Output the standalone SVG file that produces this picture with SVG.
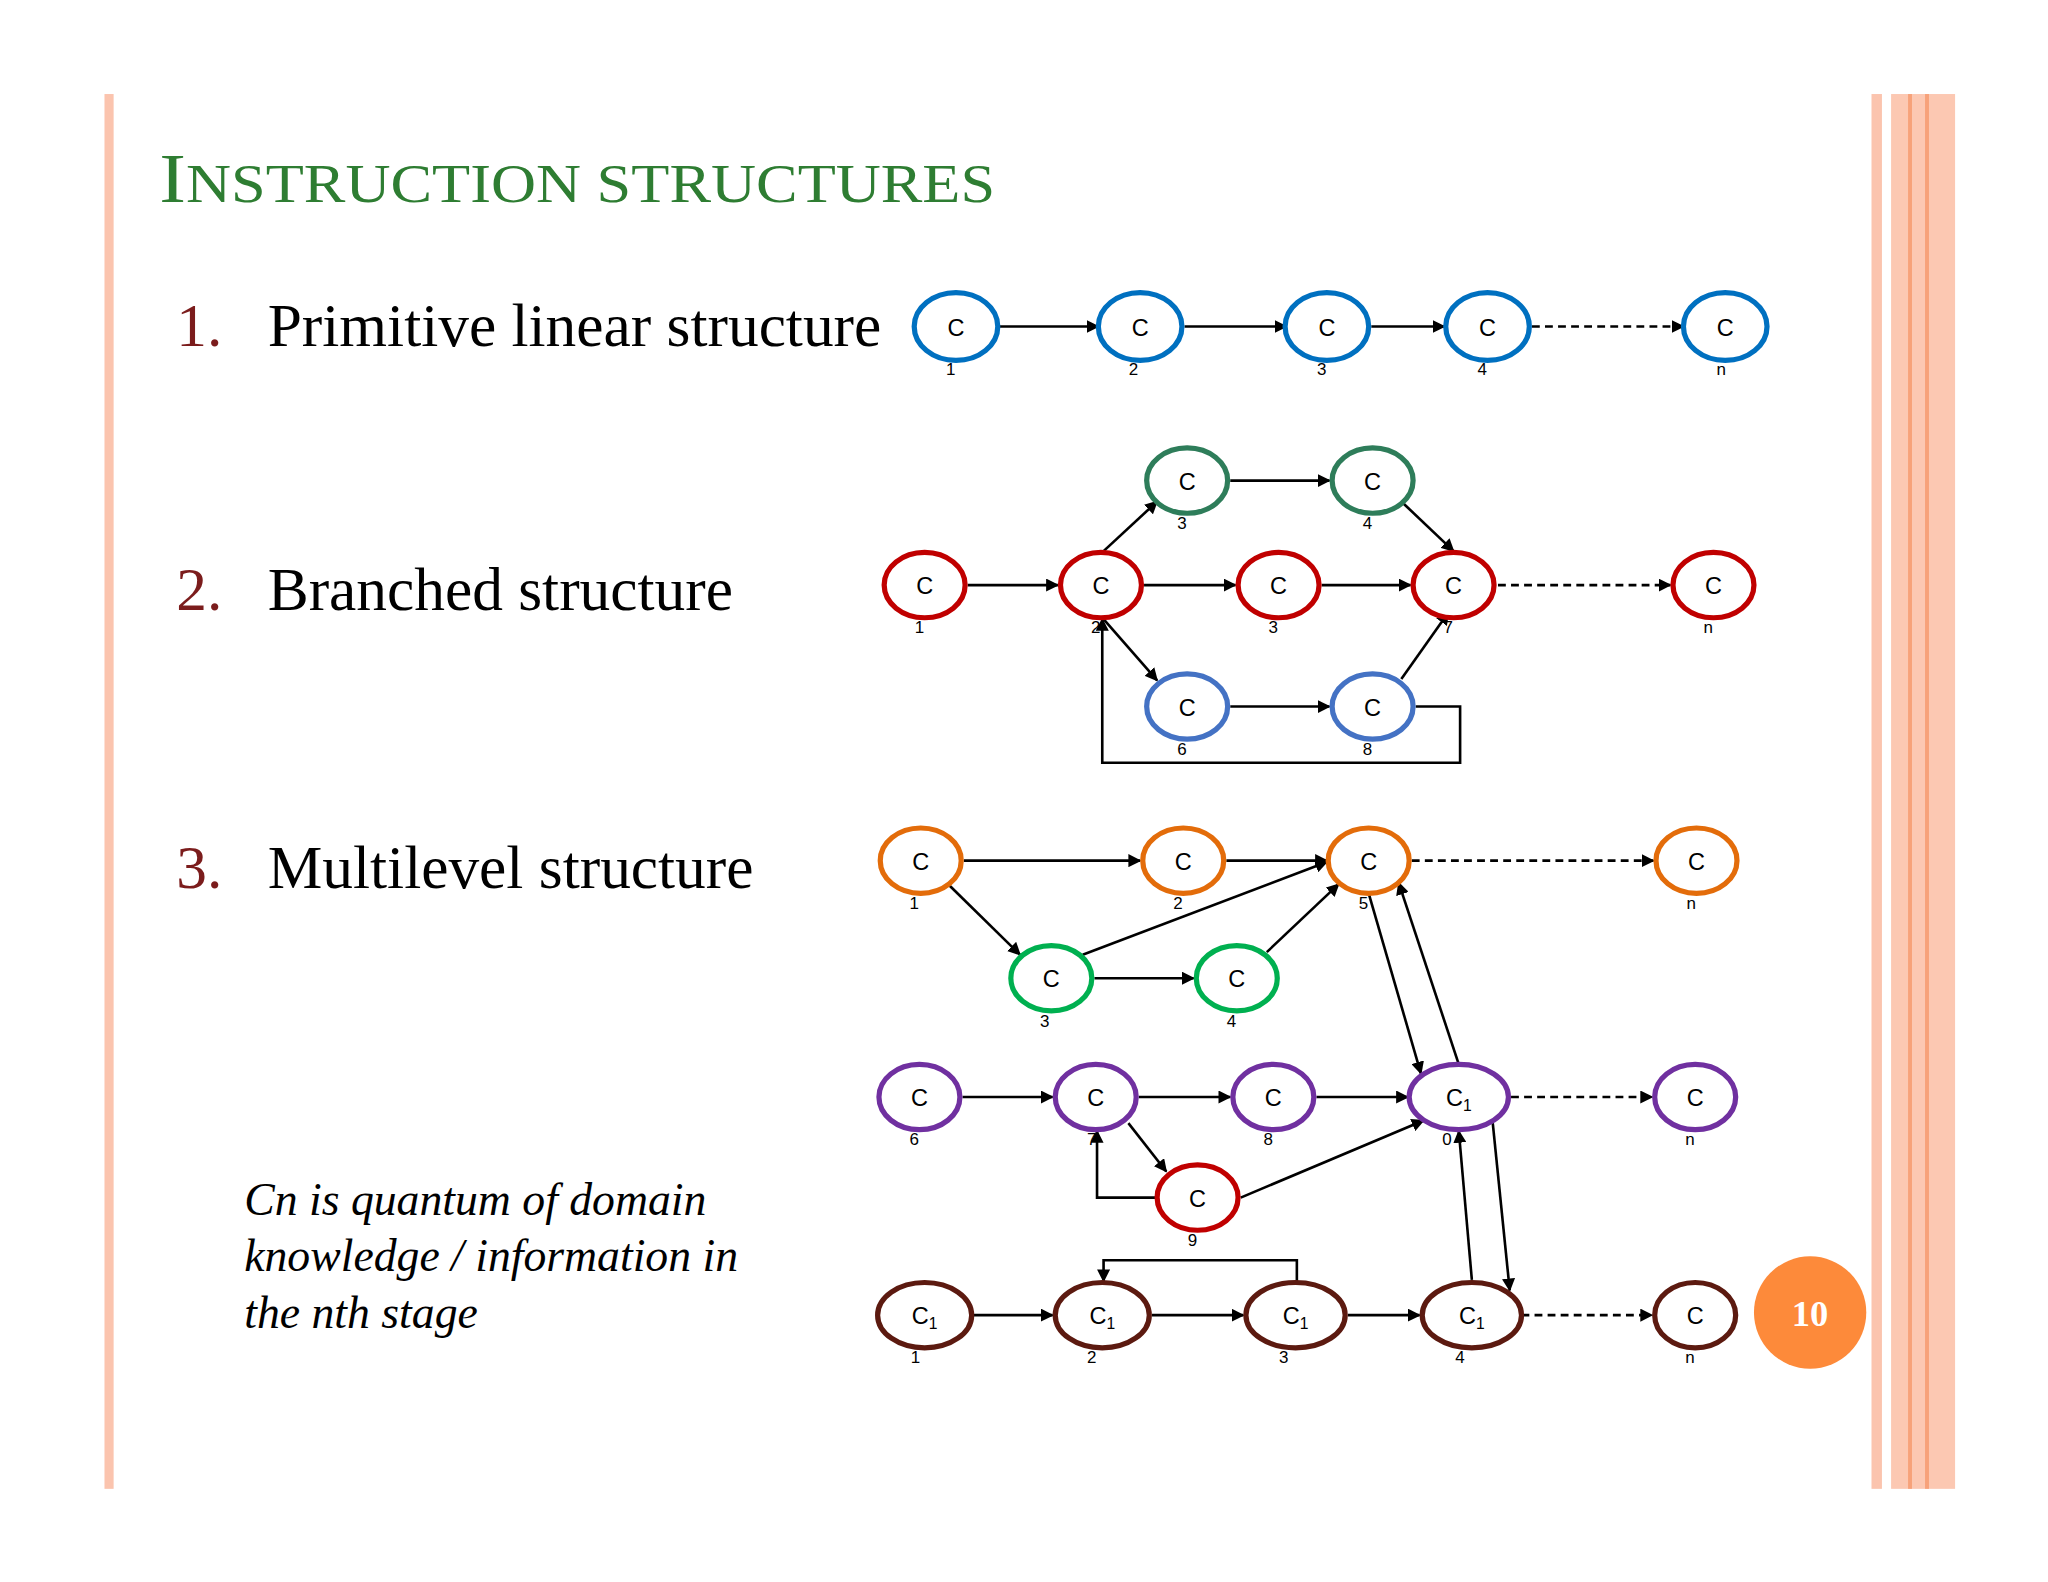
<svg xmlns="http://www.w3.org/2000/svg" width="2048" height="1582" viewBox="0 0 2048 1582">
<defs>
<marker id="ah" viewBox="0 0 10 10" refX="9" refY="5" markerWidth="10" markerHeight="10" markerUnits="userSpaceOnUse" orient="auto"><path d="M0,0 L10,5 L0,10 z" fill="#000"/></marker>
<style>
.n{fill:#fff;stroke-width:4}
.t{font-family:"Liberation Sans",Arial,sans-serif;font-size:18px;text-anchor:middle;fill:#000}
.s{font-family:"Liberation Sans",Arial,sans-serif;font-size:13px;text-anchor:middle;fill:#000}
.e{stroke:#000;stroke-width:2;fill:none;marker-end:url(#ah)}
.d{stroke-dasharray:6,4}
.h{font-family:"Liberation Serif",serif;font-size:47px;fill:#000}
.num{fill:#7b1c1c}
.blue{stroke:#0070c0}.red{stroke:#c00000}.grn{stroke:#2e7d5a}.bl2{stroke:#4472c4}.org{stroke:#e36c0a}.g2{stroke:#00b050}.pur{stroke:#7030a0}.brn{stroke:#5c1a10}
</style>
</defs>
<rect width="2048" height="1582" fill="#fff"/>
<g transform="scale(1.306)">
<g id="frame">
<rect x="80" y="72" width="7" height="1068" fill="#fbc4ae"/>
<rect x="1433" y="72" width="8" height="1068" fill="#fbc4ae"/>
<rect x="1448" y="72" width="49" height="1068" fill="#fcc8b2"/>
<rect x="1461" y="72" width="3" height="1068" fill="#f7a27a"/>
<rect x="1474" y="72" width="3" height="1068" fill="#f7a27a"/>
</g>
<text x="122" y="155" font-family="Liberation Serif,serif" fill="#2e7d32" font-size="54" textLength="640" lengthAdjust="spacingAndGlyphs">I<tspan font-size="42">NSTRUCTION STRUCTURES</tspan></text>
<text class="h" x="135" y="265"><tspan class="num">1.</tspan><tspan x="205">Primitive linear structure</tspan></text>
<text class="h" x="135" y="467"><tspan class="num">2.</tspan><tspan x="205">Branched structure</tspan></text>
<text class="h" x="135" y="680"><tspan class="num">3.</tspan><tspan x="205">Multilevel structure</tspan></text>
<text font-family="Liberation Serif,serif" font-style="italic" font-size="35" fill="#000"><tspan x="187" y="930">Cn  is quantum of domain</tspan><tspan x="187" y="973">knowledge / information in</tspan><tspan x="187" y="1017">the nth stage</tspan></text>

<g id="connectors">
<line class="e" x1="765" y1="250" x2="841" y2="250"/>
<line class="e" x1="907" y1="250" x2="985" y2="250"/>
<line class="e" x1="1050" y1="250" x2="1106" y2="250"/>
<line class="e d" x1="1173" y1="250" x2="1289" y2="250"/>
<line class="e" x1="741" y1="448" x2="810" y2="448"/>
<line class="e" x1="876" y1="448" x2="946" y2="448"/>
<line class="e" x1="1012" y1="448" x2="1080" y2="448"/>
<line class="e d" x1="1147" y1="448" x2="1279" y2="448"/>
<line class="e" x1="845" y1="422" x2="886" y2="384"/>
<line class="e" x1="942" y1="368" x2="1018" y2="368"/>
<line class="e" x1="1073" y1="384" x2="1113" y2="422"/>
<line class="e" x1="845" y1="474" x2="886" y2="521"/>
<line class="e" x1="942" y1="541" x2="1018" y2="541"/>
<line class="e" x1="1073" y1="520" x2="1109" y2="469"/>
<polyline class="e" points="1084,541 1118,541 1118,584 844,584 844,474"/>
<line class="e" x1="738" y1="659" x2="873" y2="659"/>
<line class="e" x1="939" y1="659" x2="1016" y2="659"/>
<line class="e d" x1="1081" y1="659" x2="1266" y2="659"/>
<line class="e" x1="727" y1="678" x2="781" y2="731"/>
<line class="e" x1="829" y1="731" x2="1016" y2="660"/>
<line class="e" x1="838" y1="749" x2="914" y2="749"/>
<line class="e" x1="970" y1="729" x2="1025" y2="677"/>
<line class="e" x1="1048" y1="684" x2="1088" y2="822"/>
<line class="e" x1="1117" y1="815" x2="1071" y2="676"/>
<line class="e" x1="737" y1="840" x2="806" y2="840"/>
<line class="e" x1="872" y1="840" x2="942" y2="840"/>
<line class="e" x1="1008" y1="840" x2="1078" y2="840"/>
<line class="e d" x1="1157" y1="840" x2="1265" y2="840"/>
<line class="e" x1="864" y1="860" x2="893" y2="897"/>
<line class="e" x1="950" y1="917" x2="1090" y2="858"/>
<polyline class="e" points="886,917 840,917 840,866"/>
<line class="e" x1="1143" y1="860" x2="1156" y2="988"/>
<line class="e" x1="1127" y1="980" x2="1117" y2="866"/>
<line class="e" x1="745" y1="1007" x2="806" y2="1007"/>
<line class="e" x1="882" y1="1007" x2="952" y2="1007"/>
<line class="e" x1="1032" y1="1007" x2="1087" y2="1007"/>
<line class="e d" x1="1145" y1="1007" x2="1265" y2="1007"/>
<polyline class="e" points="993,983 993,965 845,965 845,981"/>
</g>

<g id="l1"><ellipse class="n blue" cx="732" cy="250" rx="32" ry="26"/><text class="t" x="732" y="257">C</text><text class="s" x="728" y="287">1</text></g>
<g id="l2"><ellipse class="n blue" cx="873" cy="250" rx="32" ry="26"/><text class="t" x="873" y="257">C</text><text class="s" x="868" y="287">2</text></g>
<g id="l3"><ellipse class="n blue" cx="1016" cy="250" rx="32" ry="26"/><text class="t" x="1016" y="257">C</text><text class="s" x="1012" y="287">3</text></g>
<g id="l4"><ellipse class="n blue" cx="1139" cy="250" rx="32" ry="26"/><text class="t" x="1139" y="257">C</text><text class="s" x="1135" y="287">4</text></g>
<g id="ln"><ellipse class="n blue" cx="1321" cy="250" rx="32" ry="26"/><text class="t" x="1321" y="257">C</text><text class="s" x="1318" y="287">n</text></g>

<g id="b1"><ellipse class="n red" cx="708" cy="448" rx="31" ry="25"/><text class="t" x="708" y="455">C</text><text class="s" x="704" y="485">1</text></g>
<g id="b2"><ellipse class="n red" cx="843" cy="448" rx="31" ry="25"/><text class="t" x="843" y="455">C</text><text class="s" x="839" y="485">2</text></g>
<g id="b3"><ellipse class="n red" cx="979" cy="448" rx="31" ry="25"/><text class="t" x="979" y="455">C</text><text class="s" x="975" y="485">3</text></g>
<g id="b7"><ellipse class="n red" cx="1113" cy="448" rx="31" ry="25"/><text class="t" x="1113" y="455">C</text><text class="s" x="1109" y="485">7</text></g>
<g id="bn"><ellipse class="n red" cx="1312" cy="448" rx="31" ry="25"/><text class="t" x="1312" y="455">C</text><text class="s" x="1308" y="485">n</text></g>
<g id="g3"><ellipse class="n grn" cx="909" cy="368" rx="31" ry="25"/><text class="t" x="909" y="375">C</text><text class="s" x="905" y="405">3</text></g>
<g id="g4"><ellipse class="n grn" cx="1051" cy="368" rx="31" ry="25"/><text class="t" x="1051" y="375">C</text><text class="s" x="1047" y="405">4</text></g>
<g id="u6"><ellipse class="n bl2" cx="909" cy="541" rx="31" ry="25"/><text class="t" x="909" y="548">C</text><text class="s" x="905" y="578">6</text></g>
<g id="u8"><ellipse class="n bl2" cx="1051" cy="541" rx="31" ry="25"/><text class="t" x="1051" y="548">C</text><text class="s" x="1047" y="578">8</text></g>

<g id="o1"><ellipse class="n org" cx="705" cy="659" rx="31" ry="25"/><text class="t" x="705" y="666">C</text><text class="s" x="700" y="696">1</text></g>
<g id="o2"><ellipse class="n org" cx="906" cy="659" rx="31" ry="25"/><text class="t" x="906" y="666">C</text><text class="s" x="902" y="696">2</text></g>
<g id="o5"><ellipse class="n org" cx="1048" cy="659" rx="31" ry="25"/><text class="t" x="1048" y="666">C</text><text class="s" x="1044" y="696">5</text></g>
<g id="on"><ellipse class="n org" cx="1299" cy="659" rx="31" ry="25"/><text class="t" x="1299" y="666">C</text><text class="s" x="1295" y="696">n</text></g>
<g id="e3"><ellipse class="n g2" cx="805" cy="749" rx="31" ry="25"/><text class="t" x="805" y="756">C</text><text class="s" x="800" y="786">3</text></g>
<g id="e4"><ellipse class="n g2" cx="947" cy="749" rx="31" ry="25"/><text class="t" x="947" y="756">C</text><text class="s" x="943" y="786">4</text></g>

<g id="p6"><ellipse class="n pur" cx="704" cy="840" rx="31" ry="25"/><text class="t" x="704" y="847">C</text><text class="s" x="700" y="877">6</text></g>
<g id="p7"><ellipse class="n pur" cx="839" cy="840" rx="31" ry="25"/><text class="t" x="839" y="847">C</text><text class="s" x="836" y="877">7</text></g>
<g id="p8"><ellipse class="n pur" cx="975" cy="840" rx="31" ry="25"/><text class="t" x="975" y="847">C</text><text class="s" x="971" y="877">8</text></g>
<g id="p10"><ellipse class="n pur" cx="1117" cy="840" rx="38" ry="25"/><text class="t" x="1117" y="847">C<tspan font-size="12" dy="4">1</tspan></text><text class="s" x="1108" y="877">0</text></g>
<g id="pn"><ellipse class="n pur" cx="1298" cy="840" rx="31" ry="25"/><text class="t" x="1298" y="847">C</text><text class="s" x="1294" y="877">n</text></g>
<g id="r9"><ellipse class="n red" cx="917" cy="917" rx="31" ry="25"/><text class="t" x="917" y="924">C</text><text class="s" x="913" y="954">9</text></g>

<g id="k1"><ellipse class="n brn" cx="708" cy="1007" rx="36" ry="25"/><text class="t" x="708" y="1014">C<tspan font-size="12" dy="4">1</tspan></text><text class="s" x="701" y="1044">1</text></g>
<g id="k2"><ellipse class="n brn" cx="844" cy="1007" rx="36" ry="25"/><text class="t" x="844" y="1014">C<tspan font-size="12" dy="4">1</tspan></text><text class="s" x="836" y="1044">2</text></g>
<g id="k3"><ellipse class="n brn" cx="992" cy="1007" rx="38" ry="25"/><text class="t" x="992" y="1014">C<tspan font-size="12" dy="4">1</tspan></text><text class="s" x="983" y="1044">3</text></g>
<g id="k4"><ellipse class="n brn" cx="1127" cy="1007" rx="38" ry="25"/><text class="t" x="1127" y="1014">C<tspan font-size="12" dy="4">1</tspan></text><text class="s" x="1118" y="1044">4</text></g>
<g id="kn"><ellipse class="n brn" cx="1298" cy="1007" rx="31" ry="25"/><text class="t" x="1298" y="1014">C</text><text class="s" x="1294" y="1044">n</text></g>

<g id="badge"><circle cx="1386" cy="1005" r="43" fill="#fd8a3a"/><text x="1386" y="1015" font-family="Liberation Serif,serif" font-weight="bold" font-size="28" fill="#fff" text-anchor="middle">10</text></g>
</g>
</svg>
